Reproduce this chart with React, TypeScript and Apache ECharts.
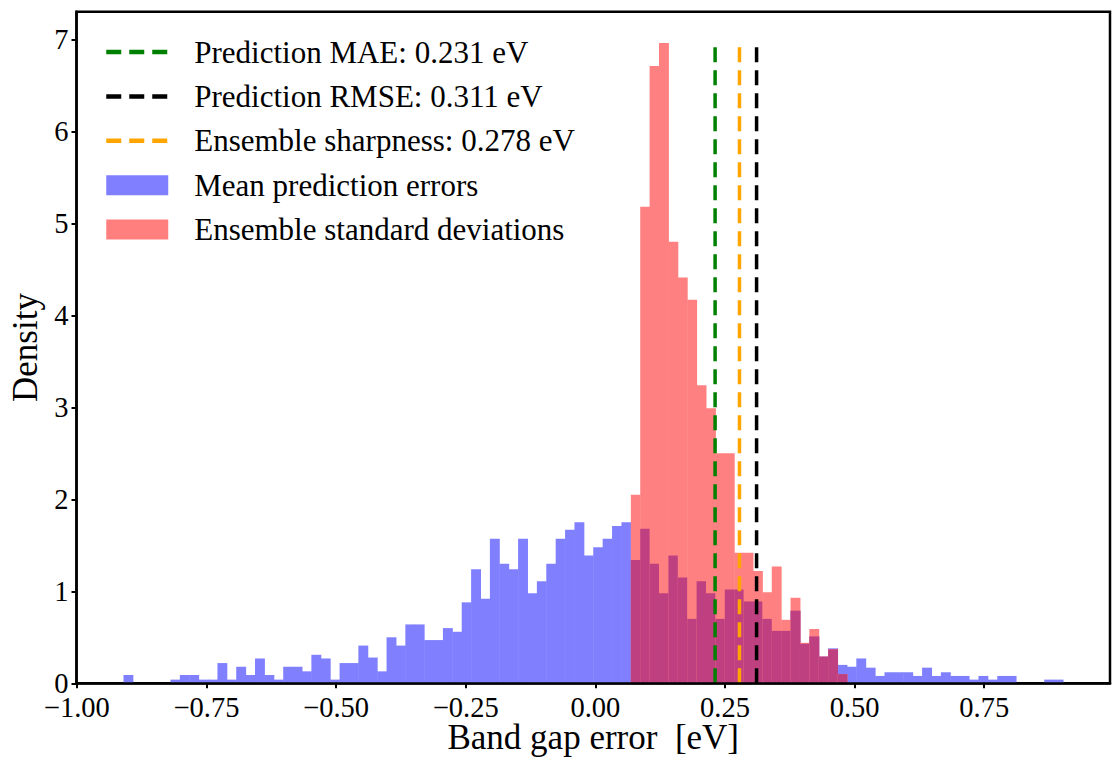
import React, { useEffect, useRef } from 'react';
import * as echarts from 'echarts';

// ---- histogram bins (shared by both histograms) ----
const BIN_START = -0.91;
const BIN_WIDTH = 0.01812;

// Mean prediction errors (density per bin, 100 bins)
const meanErrorDensity = [
  0.09, 0, 0, 0, 0, 0.04, 0.09, 0.09, 0.04, 0.04,
  0.22, 0.04, 0.18, 0.09, 0.27, 0.09, 0.04, 0.18, 0.18, 0.13,
  0.31, 0.27, 0.04, 0.22, 0.22, 0.41, 0.28, 0.13, 0.5, 0.41,
  0.64, 0.64, 0.47, 0.47, 0.6, 0.56, 0.88, 1.24, 0.92, 1.57,
  1.3, 1.24, 1.57, 0.98, 1.11, 1.3, 1.57, 1.67, 1.75, 1.39,
  1.48, 1.57, 1.71, 1.75, 1.34, 1.68, 1.3, 0.98, 1.39, 1.15,
  0.7, 1.11, 0.98, 0.7, 1.02, 1.02, 0.89, 0.89, 0.7, 0.57,
  0.57, 0.79, 0.43, 0.51, 0.29, 0.38, 0.2, 0.18, 0.27, 0.17,
  0.08, 0.12, 0.12, 0.12, 0.08, 0.17, 0.08, 0.12, 0.08, 0.08,
  0.04, 0.08, 0.04, 0.08, 0.08, 0, 0, 0, 0.04, 0.04,
];

// Ensemble standard deviations (density per bin, starting at bin 54)
const STD_FIRST_BIN = 54;
const stdDensity = [
  2.05, 5.18, 6.71, 6.96, 4.8, 4.41, 4.17, 3.24, 2.99, 2.5,
  2.5, 1.42, 1.42, 1.22, 0.99, 1.27, 0.69, 0.93, 0.44, 0.59,
  0.29, 0.37, 0.1,
];

// Reference lines
const refLabels = [
  'Prediction MAE: 0.231 eV',
  'Prediction RMSE: 0.311 eV',
  'Ensemble sharpness: 0.278 eV',
];
const refValues = [0.231, 0.311, 0.278];
const refColors = ['#008000', '#000000', '#FFA500'];

const histLabels = ['Mean prediction errors', 'Ensemble standard deviations'];

// Ticks
const xTicks = [-1.0, -0.75, -0.5, -0.25, 0.0, 0.25, 0.5, 0.75];
const yTicks = [0, 1, 2, 3, 4, 5, 6, 7];

const FONT = 'Liberation Serif';
const BLUE = '#8080FF';
const RED = '#FF8080';
const PURPLE = '#BF4080';

function buildOption(): any {
  const blueData = meanErrorDensity
    .map((d, i) => [BIN_START + i * BIN_WIDTH, BIN_START + (i + 1) * BIN_WIDTH, d])
    .filter((r) => r[2] > 0);
  const redData = stdDensity
    .map((d, j) => {
      const i = STD_FIRST_BIN + j;
      return [BIN_START + i * BIN_WIDTH, BIN_START + (i + 1) * BIN_WIDTH, d, meanErrorDensity[i]];
    })
    .filter((r) => r[2] > 0);
  const lineTop = Math.max(...stdDensity);

  const lineSeries = refLabels.map((name, k) => ({
    type: 'line',
    name,
    data: [
      [refValues[k], 0],
      [refValues[k], lineTop],
    ],
    symbol: 'none',
    silent: true,
    z: 5,
    itemStyle: { color: refColors[k] },
    lineStyle: { color: refColors[k], width: 3.5, type: [15, 8] },
  }));

  const lineLegendItem = (name: string) => ({
    name,
    icon: 'inherit',
    itemStyle: { opacity: 0 },
    lineStyle: { width: 4.5, opacity: 1 },
  });

  return {
    animation: false,
    backgroundColor: '#ffffff',
    grid: {
      left: 76.5,
      right: 4,
      top: 11.7,
      bottom: 78.7,
      outerBoundsMode: 'none',
      containLabel: false,
      show: true,
      borderColor: '#000',
      borderWidth: 2.5,
      backgroundColor: 'transparent',
    },
    legend: {
      orient: 'vertical',
      left: 104,
      top: 36.5,
      padding: 0,
      itemWidth: 62,
      itemHeight: 20,
      itemGap: 13.4,
      selectedMode: false,
      lineStyle: { width: 4.5 },
      textStyle: {
        fontSize: 31,
        fontFamily: FONT,
        color: '#000',
        lineHeight: 30,
        padding: [0, 0, 0, 21],
      },
      data: [
        lineLegendItem(refLabels[0]),
        lineLegendItem(refLabels[1]),
        lineLegendItem(refLabels[2]),
        { name: histLabels[0], icon: 'rect' },
        { name: histLabels[1], icon: 'rect' },
      ],
    },
    xAxis: {
      type: 'value',
      min: -1.0006,
      max: 0.9926,
      z: 10,
      name: 'Band gap error  [eV]',
      nameLocation: 'middle',
      nameGap: 39.5,
      nameMoveOverlap: false,
      nameTextStyle: { fontSize: 35, lineHeight: 30, fontFamily: FONT, color: '#000' },
      axisLine: { show: true, onZero: false, lineStyle: { color: '#000', width: 2.5 } },
      axisTick: { show: true, length: 5, lineStyle: { color: '#000', width: 2 }, customValues: xTicks },
      axisLabel: {
        customValues: xTicks,
        fontSize: 28.5,
        lineHeight: 24,
        fontFamily: FONT,
        color: '#000',
        margin: 12.25,
        formatter: (v: number) => (v < 0 ? '\u2212' : '') + Math.abs(v).toFixed(2),
      },
      splitLine: { show: false },
    },
    yAxis: {
      type: 'value',
      min: 0,
      max: 7.3,
      z: 10,
      name: 'Density',
      nameLocation: 'middle',
      nameRotate: 90,
      nameGap: 34,
      nameMoveOverlap: false,
      nameTextStyle: { fontSize: 35, fontFamily: FONT, color: '#000' },
      axisLine: { show: true, onZero: false, lineStyle: { color: '#000', width: 2.5 } },
      axisTick: { show: true, length: 5, lineStyle: { color: '#000', width: 2 }, customValues: yTicks },
      axisLabel: {
        customValues: yTicks,
        fontSize: 28.5,
        lineHeight: 24,
        fontFamily: FONT,
        color: '#000',
        margin: 8,
        formatter: (v: number) => String(v),
      },
      splitLine: { show: false },
    },
    series: [
      {
        type: 'custom',
        name: histLabels[0],
        itemStyle: { color: 'rgba(0,0,255,0.5)' },
        encode: { x: [0, 1], y: 2 },
        data: blueData,
        z: 2,
        renderItem: (params: any, api: any) => {
          const tl = api.coord([api.value(0), api.value(2)]);
          const br = api.coord([api.value(1), 0]);
          return {
            type: 'rect',
            shape: { x: tl[0], y: tl[1], width: br[0] - tl[0] + 0.5, height: br[1] - tl[1] },
            style: { fill: BLUE },
          };
        },
      },
      {
        type: 'custom',
        name: histLabels[1],
        itemStyle: { color: 'rgba(255,0,0,0.5)' },
        encode: { x: [0, 1], y: 2 },
        data: redData,
        z: 3,
        renderItem: (params: any, api: any) => {
          const x0 = api.value(0);
          const x1 = api.value(1);
          const r = api.value(2);
          const b = api.value(3);
          const tl = api.coord([x0, r]);
          const br = api.coord([x1, 0]);
          const ov = api.coord([x0, Math.min(r, b)]);
          const w = br[0] - tl[0] + 0.5;
          return {
            type: 'group',
            children: [
              { type: 'rect', shape: { x: tl[0], y: tl[1], width: w, height: br[1] - tl[1] }, style: { fill: RED } },
              { type: 'rect', shape: { x: tl[0], y: ov[1], width: w, height: br[1] - ov[1] }, style: { fill: PURPLE } },
            ],
          };
        },
      },
      ...lineSeries,
    ],
  };
}

export default function App() {
  const ref = useRef<HTMLDivElement>(null);
  useEffect(() => {
    const chart = echarts.init(ref.current as HTMLDivElement, null, { renderer: 'svg' });
    chart.setOption(buildOption());
    return () => chart.dispose();
  }, []);
  return (
    <div
      ref={ref}
      style={{ position: 'fixed', left: 0, top: 0, width: 1114, height: 762, background: '#fff' }}
    />
  );
}
